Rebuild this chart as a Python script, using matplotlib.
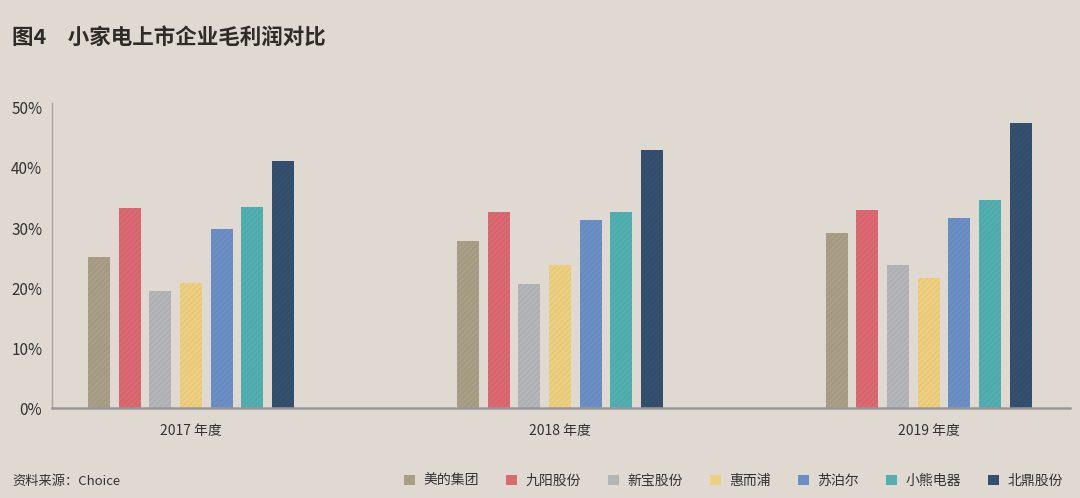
import matplotlib.pyplot as plt
import numpy as np
from matplotlib.patches import Patch

plt.rcParams['font.family'] = ['Noto Sans CJK SC', 'DejaVu Sans']
plt.rcParams['hatch.linewidth'] = 0.5

years = ["2017 年度", "2018 年度", "2019 年度"]
companies = ["美的集团", "九阳股份", "新宝股份", "惠而浦", "苏泊尔", "小熊电器", "北鼎股份"]
colors = ["#A99F86", "#DC6871", "#B4B5B9", "#EDCF7F", "#6B8FC5", "#52AFB0", "#34506E"]

# gross margin (%), one list per company: 2017, 2018, 2019
midea = [25.2, 27.8, 29.2]
joyoung = [33.3, 32.6, 33.0]
xinbao = [19.6, 20.7, 23.9]
whirlpool = [20.8, 23.9, 21.6]
supor = [29.9, 31.3, 31.6]
bear = [33.5, 32.7, 34.7]
buydeem = [41.2, 43.0, 47.5]
values = [midea, joyoung, xinbao, whirlpool, supor, bear, buydeem]

bg = "#DFD9D1"
fig = plt.figure(figsize=(10.8, 4.98), dpi=100, facecolor=bg)
ax = fig.add_axes([52/1080, 1 - 408.3/498, (1070 - 52)/1080, (408.3 - 103)/498])
ax.set_facecolor(bg)

x = np.arange(len(years))
width = 0.0596
step = 0.0832
for i, (vals, c) in enumerate(zip(values, colors)):
    pos = x + (i - 3) * step
    ax.bar(pos, [v / 100 for v in vals], width, color=c, linewidth=0)
    ax.bar(pos, [v / 100 for v in vals], width, fill=False, hatch="//////",
           edgecolor=(0, 0, 0, 0.07), linewidth=0)

ax.set_xlim(-0.377, 2.383)
ax.set_ylim(0, 0.508)
ax.set_yticks([0, 0.1, 0.2, 0.3, 0.4, 0.5])
ax.set_yticklabels(["0%", "10%", "20%", "30%", "40%", "50%"], fontsize=11, color="#333333")
ax.set_xticks(x)
ax.set_xticklabels(years, fontsize=10, color="#333333")
ax.tick_params(axis="both", length=0)
ax.tick_params(axis="y", pad=7)
ax.tick_params(axis="x", pad=11)

for s in ["top", "right"]:
    ax.spines[s].set_visible(False)
ax.spines["left"].set_color("#A8A4A0")
ax.spines["left"].set_linewidth(1)
ax.spines["bottom"].set_color("#9A989A")
ax.spines["bottom"].set_linewidth(1.8)

fig.text(12/1080, 1 - 37/498, "图4　小家电上市企业毛利润对比", fontsize=15.5, fontweight="bold",
         color="#2E2B28", va="center", ha="left")
fig.text(12/1080, 1 - 481/498, "资料来源：Choice", fontsize=9.5, color="#333333",
         va="center", ha="left")

handles = [Patch(facecolor=c, edgecolor="none") for c in colors]
fig.legend(handles, companies, loc="center right", bbox_to_anchor=(1070/1080, 1 - 481/498),
           ncol=7, frameon=False, fontsize=10, handlelength=0.8, handleheight=0.8,
           handletextpad=0.6, columnspacing=1.95, labelcolor="#333333", borderpad=0)

fig.savefig("out.png", dpi=100, facecolor=bg)
